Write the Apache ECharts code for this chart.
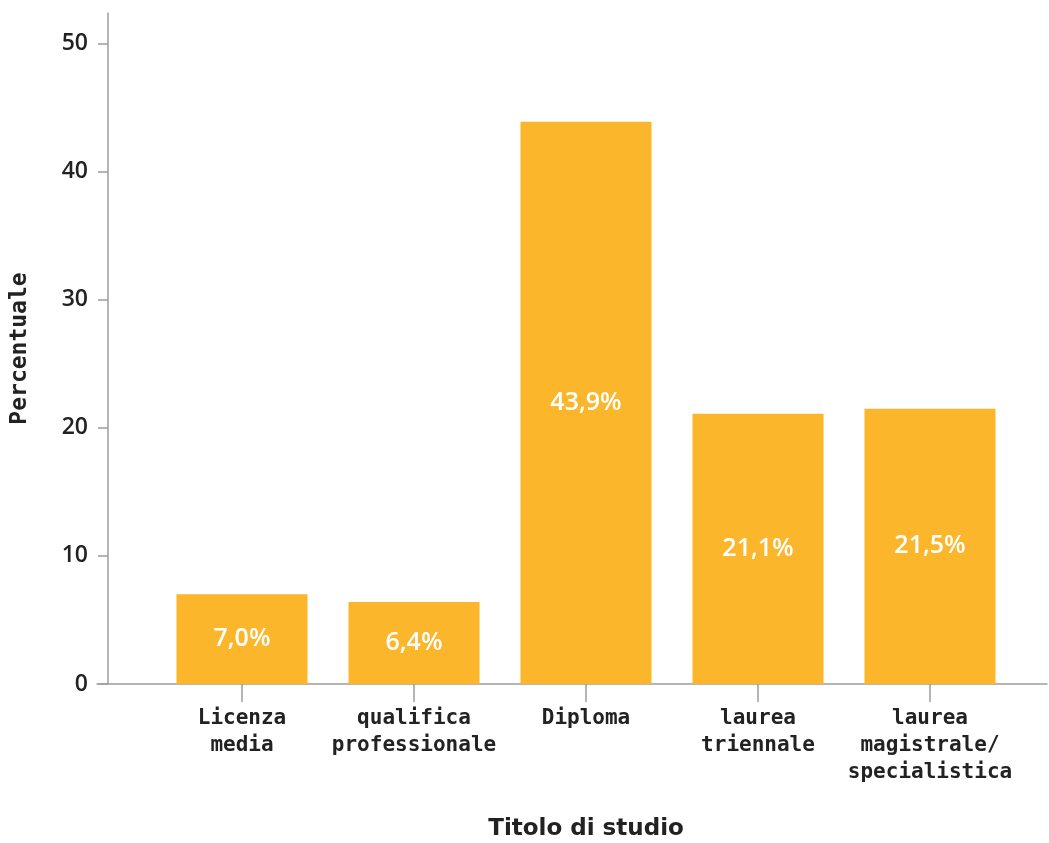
<!DOCTYPE html>
<html>
<head>
<meta charset="utf-8">
<script src="https://cdn.jsdelivr.net/npm/echarts@6/dist/echarts.min.js"></script>
<style>
  html, body { margin: 0; padding: 0; background: #fff; }
  #chart { width: 1049px; height: 843px; }
</style>
</head>
<body>
<div id="chart"></div>
<script>
// Titolo di studio: distribuzione percentuale
const categories = ['Licenza\nmedia', 'qualifica\nprofessionale', 'Diploma', 'laurea\ntriennale', 'laurea\nmagistrale/\nspecialistica'];
const values = [7.0, 6.4, 43.9, 21.1, 21.5];
const yTicks = [0, 10, 20, 30, 40, 50];

const BAR = '#FBB62B';
const AXIS = '#9d9d9d';
const INK = '#222222';
const SANS = '"Open Sans", "DejaVu Sans", sans-serif';
const MONO = '"DejaVu Sans Mono", monospace';

const chart = echarts.init(document.getElementById('chart'), null, { renderer: 'canvas' });

chart.setOption({
  animation: false,
  backgroundColor: '#ffffff',
  grid: [
    { left: 156, right: 33, top: 13, bottom: 159, outerBoundsMode: 'none', containLabel: false },
    // full-width baseline that runs under the value axis
    { left: 97, right: 2, top: 13, bottom: 159, outerBoundsMode: 'none', containLabel: false }
  ],
  xAxis: [
    {
      type: 'category',
      gridIndex: 0,
      data: categories,
      axisLine: { show: false },
      axisTick: { show: true, length: 18, alignWithLabel: true, lineStyle: { color: AXIS, width: 1.5 } },
      axisLabel: {
        margin: 21,
        color: INK,
        fontFamily: MONO,
        fontWeight: 'bold',
        fontSize: 21,
        lineHeight: 27,
        interval: 0
      },
      name: 'Titolo di studio',
      nameLocation: 'middle',
      nameGap: 134,
      nameTextStyle: { color: INK, fontFamily: '"DejaVu Sans", sans-serif', fontWeight: 'bold', fontSize: 23 }
    },
    {
      type: 'value',
      gridIndex: 1,
      min: 0,
      max: 1,
      axisLine: { show: true, onZero: false, lineStyle: { color: AXIS, width: 1.5 } },
      axisTick: { show: false },
      axisLabel: { show: false },
      splitLine: { show: false }
    }
  ],
  yAxis: [
    {
      type: 'value',
      gridIndex: 0,
      min: 0,
      max: 52.4,
      offset: 48,
      axisLine: { show: true, lineStyle: { color: AXIS, width: 1.5 } },
      axisTick: { show: true, length: 10, customValues: yTicks, lineStyle: { color: AXIS, width: 1.5 } },
      axisLabel: {
        customValues: yTicks,
        margin: 20,
        color: INK,
        fontFamily: SANS,
        fontWeight: 600,
        fontSize: 23
      },
      splitLine: { show: false },
      name: 'Percentuale',
      nameLocation: 'middle',
      nameGap: 76,
      nameRotate: 90,
      nameTextStyle: { color: INK, fontFamily: MONO, fontWeight: 'bold', fontSize: 23 }
    },
    {
      type: 'value',
      gridIndex: 1,
      show: false
    }
  ],
  series: [
    {
      type: 'bar',
      xAxisIndex: 0,
      yAxisIndex: 0,
      data: values,
      barCategoryGap: '23.8%',
      itemStyle: { color: BAR },
      label: {
        show: true,
        position: 'inside',
        color: '#ffffff',
        fontFamily: SANS,
        fontWeight: 600,
        fontSize: 25,
        formatter: p => p.value.toFixed(1).replace('.', ',') + '%'
      }
    }
  ]
});
</script>
</body>
</html>
